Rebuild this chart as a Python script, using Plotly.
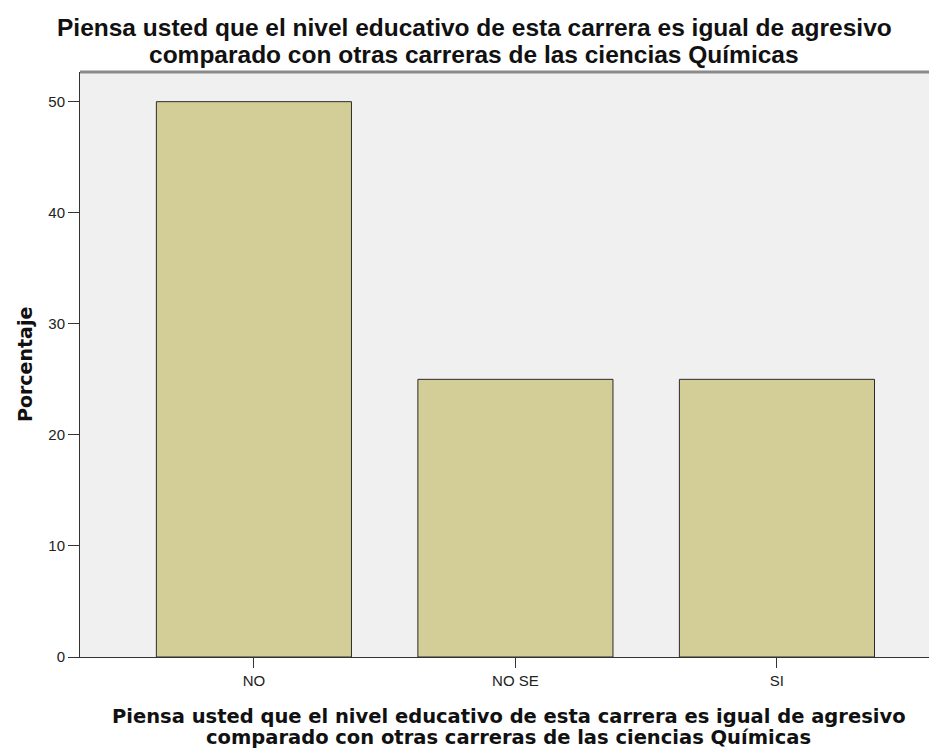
import plotly.graph_objects as go

categories = ["NO", "NO SE", "SI"]
percentages = [50, 25, 25]
y_ticks = [0, 10, 20, 30, 40, 50]
title_lines = ["Piensa usted que el nivel educativo de esta carrera es igual de agresivo",
               "comparado con otras carreras de las ciencias Químicas"]
y_title = "Porcentaje"

# page has an 8px body margin; figure is sized so the plot lands where the reference has it
OFF = 8
W, H = 937 - OFF, 750 - OFF
PL, PR, PT, PB = 80, 937, 72, 657  # plot area in screen px


def px(x):
    return (x - PL) / (PR - PL)


def py(y):
    return (PB - y) / (PB - PT)


fig = go.Figure()
fig.add_trace(go.Bar(
    x=list(range(len(categories))),
    y=percentages,
    width=0.746,
    marker=dict(color="#D3CE97", line=dict(color="#2b2b2b", width=1)),
    hoverinfo="skip",
))

fig.update_layout(
    width=W, height=H,
    margin=dict(l=PL - OFF, r=0, t=PT - OFF, b=H - (PB - OFF)),
    paper_bgcolor="white",
    plot_bgcolor="#F0F0F0",
    showlegend=False,
    font=dict(family="Liberation Sans, Arial", color="#222"),
    xaxis=dict(
        range=[-0.665, 2.612],
        tickmode="array",
        tickvals=list(range(len(categories))),
        ticktext=categories,
        showgrid=False, zeroline=False,
        showline=True, linecolor="#333", linewidth=1,
        ticks="outside", ticklen=10, tickcolor="#333", tickwidth=1,
        tickfont=dict(size=15, color="#222", family="Liberation Sans, Arial"),
        fixedrange=True,
    ),
    yaxis=dict(
        range=[0, 52.67],
        tickmode="array",
        tickvals=y_ticks,
        showgrid=False, zeroline=False,
        showline=True, linecolor="#333", linewidth=1,
        ticks="outside", ticklen=11, tickcolor="#333", tickwidth=1,
        tickfont=dict(size=15, color="#222", family="Liberation Sans, Arial"),
        fixedrange=True,
    ),
)

# top border of the plot frame
fig.add_shape(type="line", xref="paper", yref="paper", x0=0, x1=1, y0=1, y1=1,
              line=dict(color="#8a8a8a", width=3))

# chart title (two lines, tight spacing)
for line, yc in zip(title_lines, [27, 54.5]):
    fig.add_annotation(text="<b>" + line + "</b>", xref="paper", yref="paper",
                       x=px(474), y=py(yc), xanchor="center", yanchor="middle",
                       showarrow=False,
                       font=dict(family="Liberation Sans, Arial", size=24.5, color="#111"))

# x axis title
for line, yc in zip(title_lines, [716, 737]):
    fig.add_annotation(text="<b>" + line + "</b>", xref="paper", yref="paper",
                       x=px(509), y=py(yc), xanchor="center", yanchor="middle",
                       showarrow=False,
                       font=dict(family="DejaVu Sans", size=19.5, color="#111"))

# y axis title
fig.add_annotation(text="<b>" + y_title + "</b>", xref="paper", yref="paper",
                   x=px(25), y=py(365), textangle=-90, xanchor="center", yanchor="middle",
                   showarrow=False,
                   font=dict(family="DejaVu Sans", size=19, color="#111"))

fig.write_html("out.html")
